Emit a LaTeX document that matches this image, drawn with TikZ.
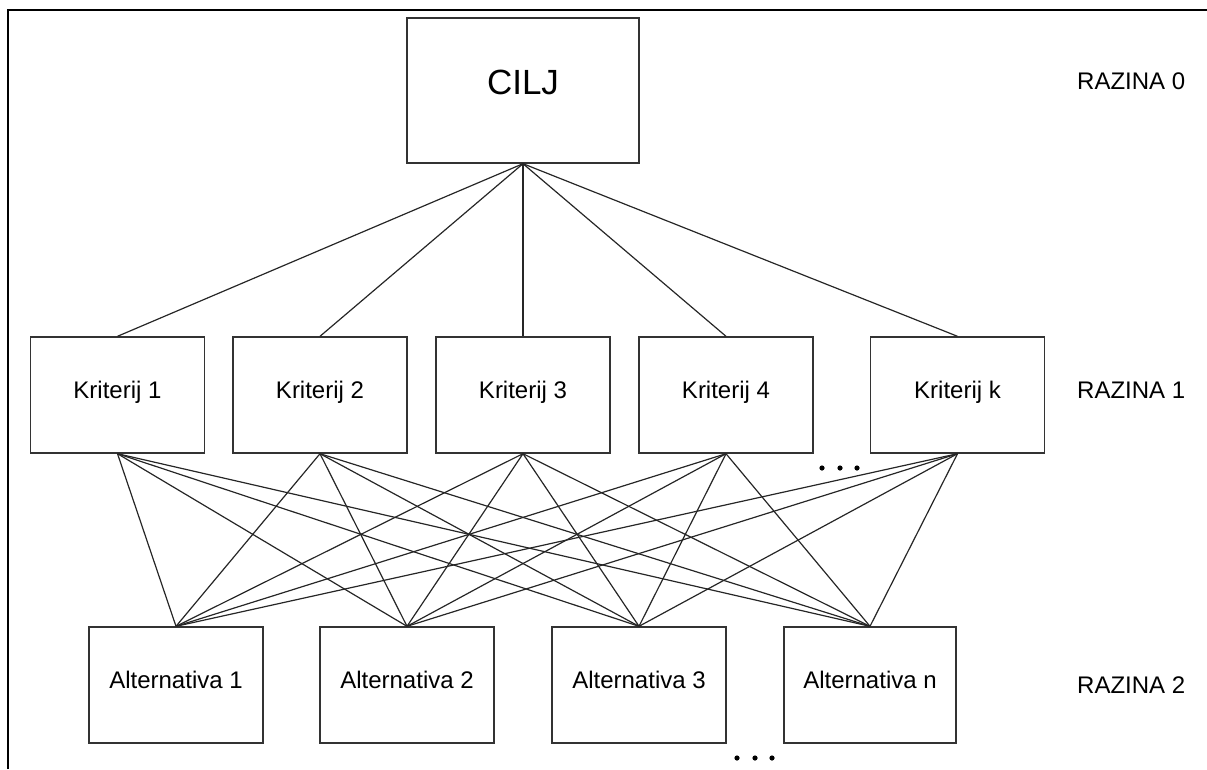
\documentclass[tikz,border=0pt]{standalone}
\usepackage{fontspec}
\setmainfont{Liberation Sans}
\begin{document}
\begin{tikzpicture}[x=1pt,y=-1pt,
  box/.style={draw=black!80,line width=1.4pt,rectangle,inner sep=0pt,
    minimum width=174pt,minimum height=116pt,
    font=\fontsize{24}{28}\selectfont,text height=0.72em,text depth=0pt},
  goal/.style={box,minimum width=232pt,minimum height=145pt,
    font=\fontsize{35}{40}\selectfont},
  level/.style={anchor=west,inner sep=0pt,font=\fontsize{24}{28}\selectfont,
    text height=0.72em,text depth=0pt},
  link/.style={draw=black!85,line width=1.2pt},
  dotmark/.style={fill=black,draw=none}]
\useasboundingbox (0,0) rectangle (1207,769);
% frame (cropped)
\draw[line width=2pt] (7.5,769) -- (7.5,9.5) -- (1207,9.5);

% goal
\node[goal] (cilj) at (523,90.5) {CILJ};

% criteria
\node[box] (k1) at (117.5,395) {Kriterij 1};
\node[box] (k2) at (320,395) {Kriterij 2};
\node[box] (k3) at (523,395) {Kriterij 3};
\node[box] (k4) at (726,395) {Kriterij 4};
\node[box] (kk) at (957.5,395) {Kriterij k};

% alternatives
\node[box] (a1) at (176,685) {Alternativa 1};
\node[box] (a2) at (407,685) {Alternativa 2};
\node[box] (a3) at (639,685) {Alternativa 3};
\node[box,minimum width=172pt] (an) at (870,685) {Alternativa n};

% level labels
\node[level] (r0) at (1077,86) {RAZINA 0};
\node[level] (r1) at (1077,395) {RAZINA 1};
\node[level] (r2) at (1077,690) {RAZINA 2};

% goal to criteria
\foreach \k in {k1,k2,k3,k4,kk}
  \draw[link] (cilj.south) -- (\k.north);

% criteria to alternatives
\foreach \k in {k1,k2,k3,k4,kk}
  \foreach \a in {a1,a2,a3,an}
    \draw[link] (\k.south) -- (\a.north);

% ellipses
\foreach \x [count=\i] in {822,840,857}
  \fill[dotmark] (\x,468) circle (2.6pt) coordinate (d\i);
\foreach \x [count=\i] in {737,755,772}
  \fill[dotmark] (\x,758) circle (2.6pt) coordinate (e\i);
\end{tikzpicture}
\end{document}
